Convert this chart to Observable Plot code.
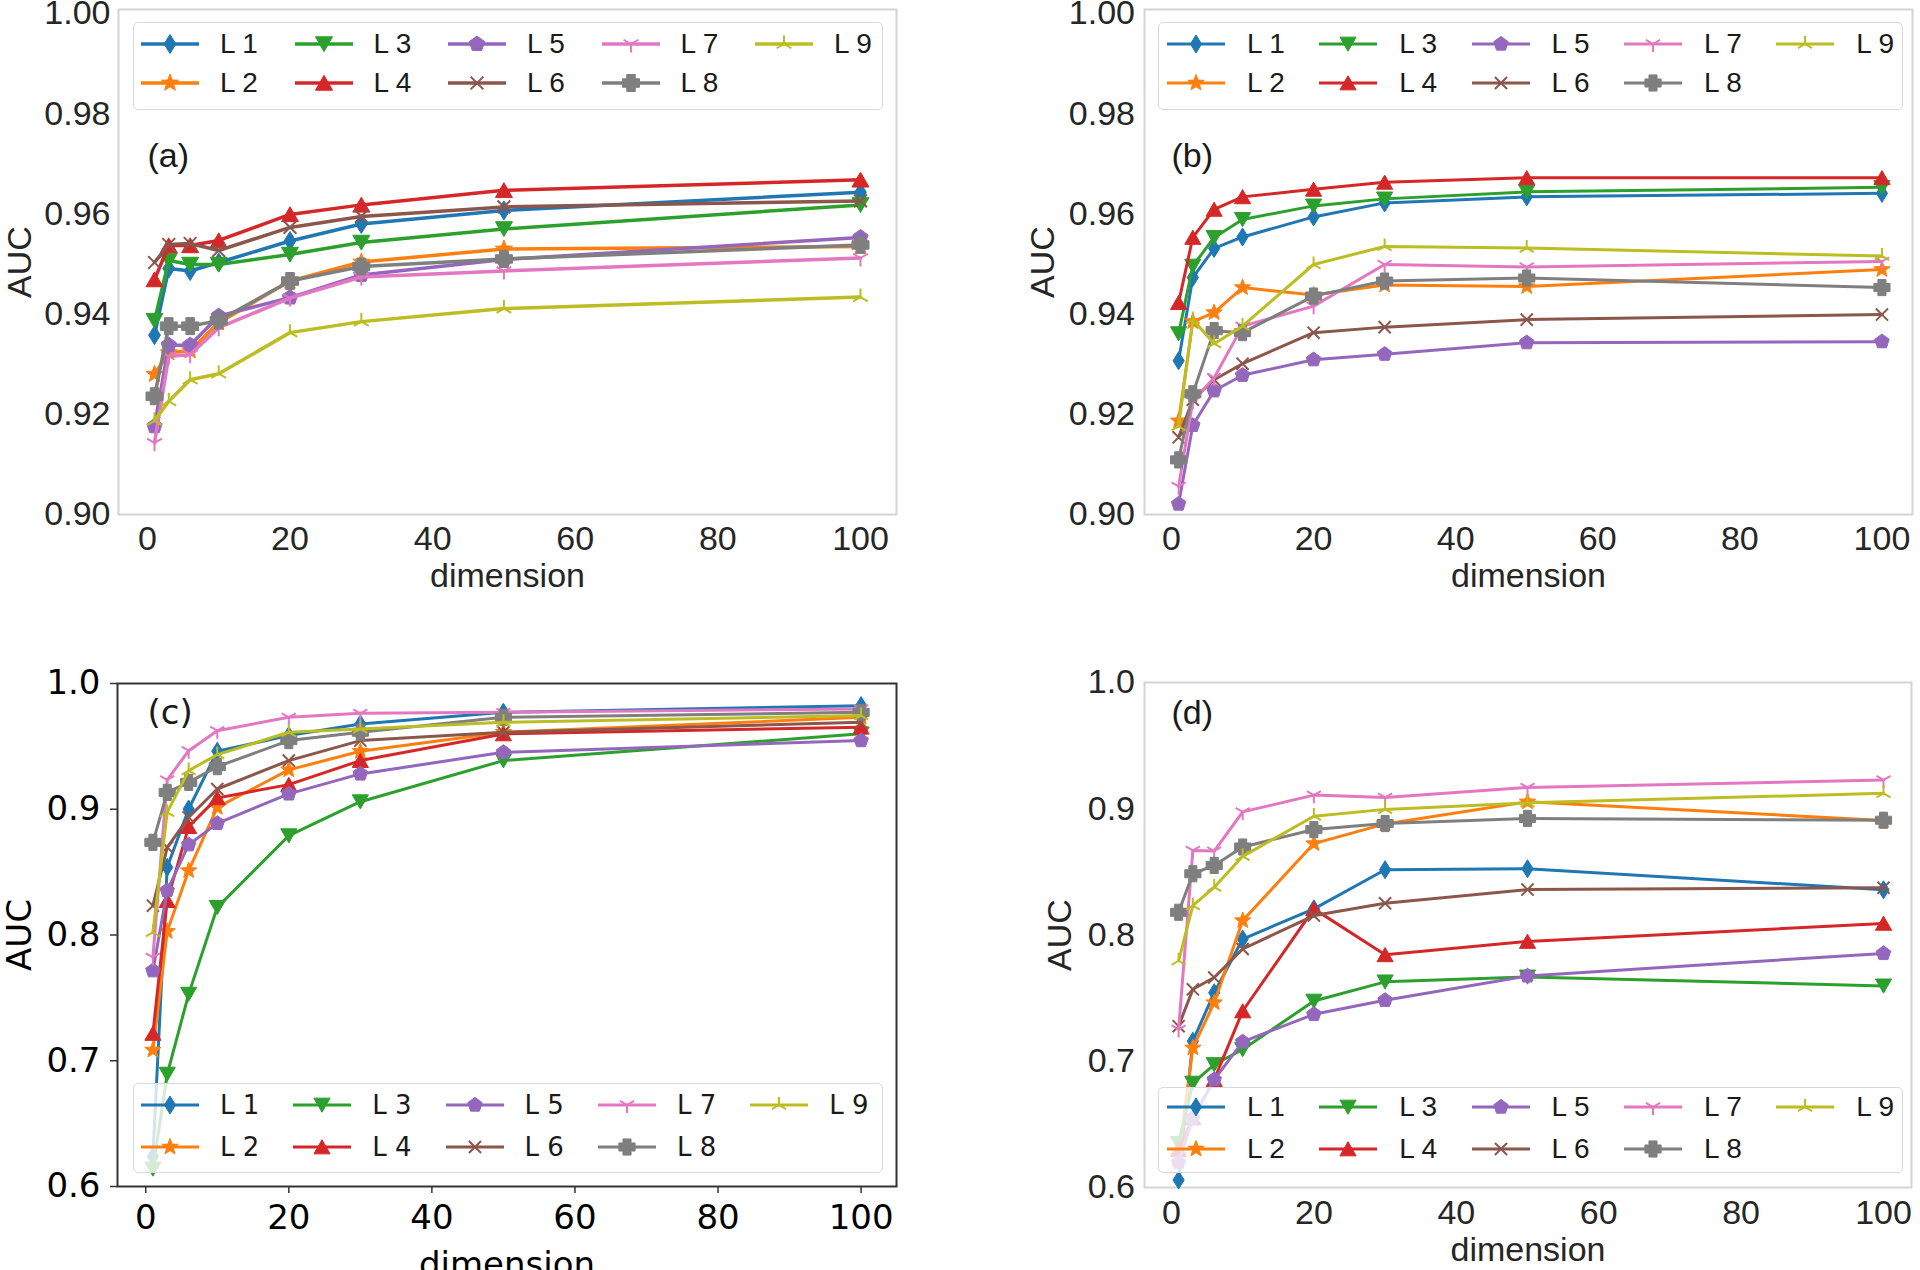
<!DOCTYPE html>
<html><head><meta charset="utf-8">
<script src="https://cdn.jsdelivr.net/npm/d3@7"></script>
<script src="https://cdn.jsdelivr.net/npm/@observablehq/plot@0.6"></script>
<style>
html,body{margin:0;padding:0;background:#fff;}
#fig{position:relative;width:1920px;height:1270px;overflow:hidden;background:#fff;}
.panel{position:absolute;}
.lg{position:absolute;box-sizing:border-box;border:1.5px solid #d9d9d9;border-radius:5px;background:rgba(255,255,255,0.8);}
.lgt{position:absolute;line-height:1;white-space:nowrap;transform:translateY(-50%);color:#1a1a1a;}
.lgs{position:absolute;overflow:visible;}
</style></head><body><div id="fig"></div>
<script>
// ---------------- data ----------------
const dims = [1, 3, 6, 10, 20, 30, 50, 100];
const seriesNames = ["L 1", "L 2", "L 3", "L 4", "L 5", "L 6", "L 7", "L 8", "L 9"];
const seriesColors = ["#1f77b4", "#ff7f0e", "#2ca02c", "#d62728", "#9467bd", "#8c564b", "#e377c2", "#7f7f7f", "#bcbd22"];
const xTicks = [0, 20, 40, 60, 80, 100];
const yTicksAB = [0.90, 0.92, 0.94, 0.96, 0.98, 1.00];
const yTicksCD = [0.6, 0.7, 0.8, 0.9, 1.0];
const panelTags = ["(a)", "(b)", "(c)", "(d)"];

// panel (a)
const aucA = [
  [0.9358, 0.9491, 0.9486, 0.9503, 0.9546, 0.9580, 0.9607, 0.9643],
  [0.9280, 0.9323, 0.9327, 0.9383, 0.9466, 0.9504, 0.9530, 0.9535],
  [0.9387, 0.9507, 0.9499, 0.9499, 0.9519, 0.9543, 0.9570, 0.9618],
  [0.9469, 0.9537, 0.9537, 0.9547, 0.9599, 0.9618, 0.9647, 0.9668],
  [0.9176, 0.9338, 0.9338, 0.9396, 0.9433, 0.9478, 0.9509, 0.9553],
  [0.9503, 0.9539, 0.9541, 0.9527, 0.9573, 0.9595, 0.9614, 0.9626],
  [0.9143, 0.9316, 0.9319, 0.9373, 0.9432, 0.9474, 0.9486, 0.9512],
  [0.9236, 0.9376, 0.9376, 0.9387, 0.9466, 0.9495, 0.9510, 0.9538],
  [0.9187, 0.9226, 0.9269, 0.9281, 0.9363, 0.9385, 0.9411, 0.9434]
];
// panel (b)
const aucB = [
  [0.9307, 0.9473, 0.9531, 0.9554, 0.9594, 0.9622, 0.9634, 0.9641],
  [0.9187, 0.9385, 0.9403, 0.9453, 0.9438, 0.9458, 0.9455, 0.9489],
  [0.9361, 0.9496, 0.9553, 0.9589, 0.9616, 0.9630, 0.9644, 0.9653],
  [0.9423, 0.9553, 0.9609, 0.9634, 0.9649, 0.9663, 0.9672, 0.9672],
  [0.9021, 0.9178, 0.9247, 0.9278, 0.9309, 0.9320, 0.9343, 0.9345],
  [0.9154, 0.9229, 0.9269, 0.9301, 0.9363, 0.9374, 0.9389, 0.9399],
  [0.9056, 0.9226, 0.9273, 0.9376, 0.9416, 0.9499, 0.9494, 0.9505],
  [0.9109, 0.9241, 0.9367, 0.9363, 0.9436, 0.9466, 0.9472, 0.9453],
  [0.9176, 0.9389, 0.9341, 0.9376, 0.9499, 0.9535, 0.9532, 0.9516]
];
// panel (c)
const aucC = [
  [0.624, 0.8538, 0.9002, 0.9461, 0.9586, 0.9678, 0.9771, 0.9824],
  [0.7085, 0.8029, 0.8512, 0.9015, 0.9313, 0.9461, 0.9612, 0.9731],
  [0.614, 0.6894, 0.7530, 0.8220, 0.8790, 0.9060, 0.9387, 0.9600],
  [0.7217, 0.8273, 0.8862, 0.9090, 0.9196, 0.9387, 0.9599, 0.9652],
  [0.7716, 0.8353, 0.8718, 0.8888, 0.9122, 0.9281, 0.9453, 0.9546],
  [0.8233, 0.8697, 0.8936, 0.9161, 0.9387, 0.9546, 0.9612, 0.9691],
  [0.7822, 0.9233, 0.9466, 0.9625, 0.9731, 0.9763, 0.9771, 0.9798],
  [0.8737, 0.9134, 0.9214, 0.9339, 0.9546, 0.9612, 0.9731, 0.9771],
  [0.8021, 0.8975, 0.9307, 0.9434, 0.9612, 0.9639, 0.9691, 0.9745]
];
// panel (d)
const aucD = [
  [0.6059, 0.7159, 0.7543, 0.7968, 0.8207, 0.8517, 0.8525, 0.8358],
  [0.625, 0.7106, 0.7464, 0.8114, 0.8724, 0.8880, 0.9055, 0.8907],
  [0.635, 0.6827, 0.6974, 0.7093, 0.7477, 0.7629, 0.7668, 0.7597],
  [0.630, 0.6550, 0.6854, 0.7398, 0.8207, 0.7843, 0.7949, 0.8092],
  [0.620, 0.6550, 0.6854, 0.7154, 0.7372, 0.7483, 0.7676, 0.7854],
  [0.7278, 0.7570, 0.7663, 0.7889, 0.8154, 0.8251, 0.8360, 0.8374],
  [0.7252, 0.8670, 0.8665, 0.8975, 0.9108, 0.9090, 0.9169, 0.9228],
  [0.8180, 0.8485, 0.8551, 0.8697, 0.8835, 0.8883, 0.8923, 0.8909],
  [0.7796, 0.8233, 0.8379, 0.8623, 0.8941, 0.8995, 0.9047, 0.9122]
];

// ---------------- marker symbols (matplotlib-like) ----------------
const rad = s => Math.sqrt(s / Math.PI);
const symThinDiamond = {draw(c, s) { const R = rad(s); c.moveTo(0, -R); c.lineTo(0.62 * R, 0); c.lineTo(0, R); c.lineTo(-0.62 * R, 0); c.closePath(); }};
const symStar = {draw(c, s) { const R = rad(s); for (let i = 0; i < 10; i++) { const a = -Math.PI / 2 + i * Math.PI / 5, q = i % 2 ? 0.42 * R : R; i ? c.lineTo(q * Math.cos(a), q * Math.sin(a)) : c.moveTo(q * Math.cos(a), q * Math.sin(a)); } c.closePath(); }};
const symTriDownFilled = {draw(c, s) { const R = rad(s); c.moveTo(0, 0.9 * R); c.lineTo(-R, -0.85 * R); c.lineTo(R, -0.85 * R); c.closePath(); }};
const symTriUpFilled = {draw(c, s) { const R = rad(s); c.moveTo(0, -0.9 * R); c.lineTo(-R, 0.85 * R); c.lineTo(R, 0.85 * R); c.closePath(); }};
const symPentagon = {draw(c, s) { const R = rad(s); for (let i = 0; i < 5; i++) { const a = -Math.PI / 2 + i * 2 * Math.PI / 5; i ? c.lineTo(R * Math.cos(a), R * Math.sin(a)) : c.moveTo(R * Math.cos(a), R * Math.sin(a)); } c.closePath(); }};
const symX = {draw(c, s) { const R = 0.75 * rad(s); c.moveTo(-R, -R); c.lineTo(R, R); c.moveTo(-R, R); c.lineTo(R, -R); }};
const symTriDownOpen = {draw(c, s) { const R = rad(s); c.moveTo(0, 0); c.lineTo(0, R); c.moveTo(0, 0); c.lineTo(-0.87 * R, -0.5 * R); c.moveTo(0, 0); c.lineTo(0.87 * R, -0.5 * R); }};
const symPlusFilled = {draw(c, s) { const R = rad(s), a = 0.5 * R; const p = [[-a,-R],[a,-R],[a,-a],[R,-a],[R,a],[a,a],[a,R],[-a,R],[-a,a],[-R,a],[-R,-a],[-a,-a]]; p.forEach((q, i) => i ? c.lineTo(q[0], q[1]) : c.moveTo(q[0], q[1])); c.closePath(); }};
const symTriUpOpen = {draw(c, s) { const R = rad(s); c.moveTo(0, 0); c.lineTo(0, -R); c.moveTo(0, 0); c.lineTo(-0.87 * R, 0.5 * R); c.moveTo(0, 0); c.lineTo(0.87 * R, 0.5 * R); }};

const markerStyles = [
  {sym: symThinDiamond, r: 9.5, filled: true},
  {sym: symStar, r: 9, filled: true},
  {sym: symTriDownFilled, r: 8.5, filled: true},
  {sym: symTriUpFilled, r: 8.5, filled: true},
  {sym: symPentagon, r: 8, filled: true},
  {sym: symX, r: 8.5, filled: false},
  {sym: symTriDownOpen, r: 8.5, filled: false},
  {sym: symPlusFilled, r: 8.5, filled: true},
  {sym: symTriUpOpen, r: 8.5, filled: false}
];

// ---------------- layout configs ----------------
const light = "#d4d4d4";
const panels = [
  {auc: aucA, tag: panelTags[0], left: 0, top: 1, mL: 118, mR: 64, mT: 8, mB: 117, xdom: [-4.05, 105.05], ydom: [0.9, 1.0008],
   yticks: yTicksAB, fmt: ".2f", font: "Liberation Sans", fs: 34, frame: light, frameW: 2, tickSize: 0, xPad: 11, yPad: 8,
   xLab: 72, yLab: 112, tagDx: 29, tagDy: 147, lineW: 3.5, ms: 1.0, txt: "#262626",
   lg: {l: 133, t: 22, w: 750, h: 88, x0: 170, dx: 153.5, rows: [44, 83], font: "Liberation Sans", fs: 28, gap: 50}},
  {auc: aucB, tag: panelTags[1], left: 960, top: 1, mL: 184, mR: 8, mT: 8, mB: 117, xdom: [-3.8, 104.3], ydom: [0.9, 1.0008],
   yticks: yTicksAB, fmt: ".2f", font: "Liberation Sans", fs: 34, frame: light, frameW: 2, tickSize: 0, xPad: 11, yPad: 9.5,
   xLab: 72, yLab: 115, tagDx: 27, tagDy: 147, lineW: 3, ms: 0.95, txt: "#262626",
   lg: {l: 1158, t: 22, w: 745, h: 88, x0: 1196, dx: 152.3, rows: [44, 83], font: "Liberation Sans", fs: 28, gap: 51}},
  {auc: aucC, tag: panelTags[2], left: 0, top: 640, mL: 117, mR: 64, mT: 43, mB: 84, xdom: [-3.95, 104.95], ydom: [0.6, 1.0],
   yticks: yTicksCD, fmt: ".1f", font: "DejaVu Sans", fs: 34, frame: "#333333", frameW: 2, tickSize: 7, xPad: 11.5, yPad: 10,
   xLab: 89, yLab: 111, tagDx: 30, tagDy: 30, lineW: 3, ms: 0.95, txt: "#000000",
   lg: {l: 133, t: 1083, w: 750, h: 90, x0: 170, dx: 152.3, rows: [1105, 1147], font: "DejaVu Sans", fs: 26, gap: 50}},
  {auc: aucD, tag: panelTags[3], left: 960, top: 640, mL: 184, mR: 9, mT: 42, mB: 83, xdom: [-3.79, 103.93], ydom: [0.6, 1.0],
   yticks: yTicksCD, fmt: ".1f", font: "Liberation Sans", fs: 34, frame: light, frameW: 2, tickSize: 0, xPad: 12.5, yPad: 9.5,
   xLab: 73, yLab: 98, tagDx: 27, tagDy: 31, lineW: 3, ms: 0.95, txt: "#262626",
   lg: {l: 1158, t: 1087, w: 745, h: 86, x0: 1196, dx: 152.3, rows: [1107, 1149], font: "Liberation Sans", fs: 28, gap: 51}}
];

const fig = document.getElementById("fig");

function drawPanel(cfg) {
  const W = 960, H = 630;
  const marks = [
    Plot.frame({stroke: cfg.frame, strokeWidth: cfg.frameW}),
    Plot.axisX({ticks: xTicks, tickFormat: d => String(d), tickSize: cfg.tickSize, tickPadding: cfg.xPad,
      stroke: cfg.frame, strokeWidth: 1.5, label: "dimension", labelAnchor: "center", labelArrow: "none", labelOffset: cfg.xLab}),
    Plot.axisY({ticks: cfg.yticks, tickFormat: d3.format(cfg.fmt), tickSize: cfg.tickSize, tickPadding: cfg.yPad,
      stroke: cfg.frame, strokeWidth: 1.5, label: "AUC", labelAnchor: "center", labelArrow: "none", labelOffset: cfg.yLab})
  ];
  cfg.auc.forEach((vals, i) => {
    const rows = vals.map((v, j) => ({dim: dims[j], auc: v}));
    const m = markerStyles[i];
    marks.push(Plot.line(rows, {x: "dim", y: "auc", stroke: seriesColors[i], strokeWidth: cfg.lineW}));
    marks.push(Plot.dot(rows, {x: "dim", y: "auc", symbol: m.sym, r: m.r * cfg.ms,
      fill: m.filled ? seriesColors[i] : "none", stroke: seriesColors[i], strokeWidth: m.filled ? 1 : 2}));
  });
  marks.push(Plot.text([cfg.tag], {text: d => d, frameAnchor: "top-left", dx: cfg.tagDx, dy: cfg.tagDy,
    textAnchor: "start", lineAnchor: "middle", fill: "#1a1a1a"}));
  const svg = Plot.plot({
    width: W, height: H,
    marginLeft: cfg.mL, marginRight: cfg.mR, marginTop: cfg.mT, marginBottom: cfg.mB,
    x: {domain: cfg.xdom}, y: {domain: cfg.ydom},
    style: {fontFamily: cfg.font, fontSize: cfg.fs + "px", color: cfg.txt, background: "none", overflow: "visible"},
    marks
  });
  const div = document.createElement("div");
  div.className = "panel";
  div.style.left = cfg.left + "px"; div.style.top = cfg.top + "px";
  div.style.width = W + "px"; div.style.height = H + "px";
  div.appendChild(svg);
  fig.appendChild(div);
}

function drawLegend(cfg) {
  const g = cfg.lg;
  const box = document.createElement("div");
  box.className = "lg";
  Object.assign(box.style, {left: g.l + "px", top: g.t + "px", width: g.w + "px", height: g.h + "px"});
  fig.appendChild(box);
  seriesNames.forEach((name, i) => {
    const col = Math.floor(i / 2), row = i % 2;
    const cx = g.x0 + col * g.dx, cy = g.rows[row];
    const m = markerStyles[i];
    const svg = d3.create("svg").attr("class", "lgs").attr("width", 64).attr("height", 30)
      .style("left", (cx - 32) + "px").style("top", (cy - 15) + "px");
    svg.append("line").attr("x1", 3).attr("x2", 61).attr("y1", 15).attr("y2", 15)
      .attr("stroke", seriesColors[i]).attr("stroke-width", cfg.lineW);
    const p = d3.path();
    const rr = m.r * cfg.ms;
    m.sym.draw(p, Math.PI * rr * rr);
    svg.append("path").attr("d", p.toString()).attr("transform", "translate(32,15)")
      .attr("fill", m.filled ? seriesColors[i] : "none").attr("stroke", seriesColors[i])
      .attr("stroke-width", m.filled ? 1 : 2);
    fig.appendChild(svg.node());
    const t = document.createElement("div");
    t.className = "lgt";
    t.textContent = name;
    Object.assign(t.style, {left: (cx + g.gap) + "px", top: cy + "px", fontFamily: g.font, fontSize: g.fs + "px"});
    fig.appendChild(t);
  });
}

panels.forEach(drawPanel);
panels.forEach(drawLegend);
</script></body></html>
